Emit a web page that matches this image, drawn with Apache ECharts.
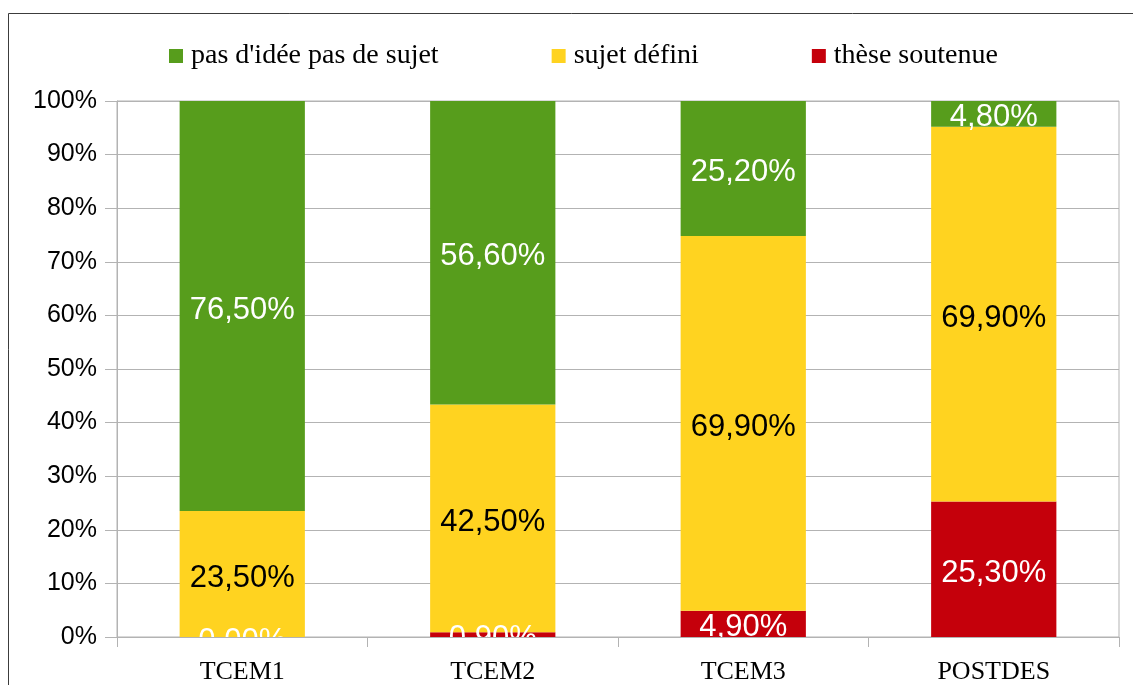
<!DOCTYPE html>
<html>
<head>
<meta charset="utf-8">
<script src="https://cdn.jsdelivr.net/npm/echarts@6/dist/echarts.min.js"></script>
<style>html,body{margin:0;padding:0;background:#fff}#c{width:1133px;height:685px}</style>
</head>
<body>
<div id="c"></div>
<script>
const categories = ['TCEM1', 'TCEM2', 'TCEM3', 'POSTDES'];
const theseSoutenue = [0.0, 0.9, 4.9, 25.3];
const sujetDefini = [23.5, 42.5, 69.9, 69.9];
const pasIdee = [76.5, 56.6, 25.2, 4.8];
const seriesNames = ["pas d'idée pas de sujet", 'sujet défini', 'thèse soutenue'];
const yTicks = [0, 10, 20, 30, 40, 50, 60, 70, 80, 90, 100];

const fmt = p => p.value.toFixed(2).replace('.', ',') + '%';
const sans = '"Liberation Sans", Arial, sans-serif';
const serif = '"Liberation Serif", "Times New Roman", serif';

function mk(name, data, color, labelColor) {
  return {
    name: name, type: 'bar', stack: 'total', data: data, barWidth: '50%',
    itemStyle: { color: color },
    label: { show: true, position: 'inside', formatter: fmt, color: labelColor,
             fontFamily: sans, fontSize: 31, offset: [0, 4] },
    emphasis: { disabled: true }
  };
}

const chart = echarts.init(document.getElementById('c'), null, { renderer: 'canvas' });
chart.setOption({
  animation: false,
  backgroundColor: '#fff',
  graphic: [
    { type: 'rect', z: -10, shape: { x: 8.5, y: 13.5, width: 1300, height: 1000 },
      style: { fill: 'none', stroke: '#3c3c3c', lineWidth: 1 } },
    { type: 'rect', z: 50, shape: { x: 100, y: 639, width: 1033, height: 22 },
      style: { fill: '#fff' } }
  ],
  legend: {
    left: 169, top: 42, padding: 0,
    icon: 'rect', itemWidth: 14, itemHeight: 14, itemGap: 113,
    textStyle: { fontFamily: serif, fontSize: 28, color: '#000', padding: [0, 0, 0, 3] },
    data: seriesNames
  },
  grid: { left: 117, right: 14, top: 101, bottom: 47, show: true,
          borderColor: '#b3b3b3', borderWidth: 1, containLabel: false },
  xAxis: {
    type: 'category', data: categories, z: 100,
    axisLine: { lineStyle: { color: '#b3b3b3' } },
    axisTick: { show: true, length: 10, lineStyle: { color: '#b3b3b3' } },
    axisLabel: { fontFamily: serif, fontSize: 26, color: '#000', margin: 22 }
  },
  yAxis: {
    type: 'value', min: yTicks[0], max: yTicks[yTicks.length - 1], interval: 10,
    axisLine: { show: true, lineStyle: { color: '#b3b3b3' } },
    axisTick: { show: true, length: 12, lineStyle: { color: '#b3b3b3' } },
    splitLine: { lineStyle: { color: '#b3b3b3' } },
    axisLabel: { fontFamily: sans, fontSize: 25, color: '#000', margin: 20,
                 padding: [0, 0, 0, 0], formatter: '{value}%' }
  },
  series: [
    mk(seriesNames[2], theseSoutenue, '#c5000b', '#fff'),
    mk(seriesNames[1], sujetDefini, '#ffd320', '#000'),
    mk(seriesNames[0], pasIdee, '#579d1c', '#fff')
  ]
});
</script>
</body>
</html>
